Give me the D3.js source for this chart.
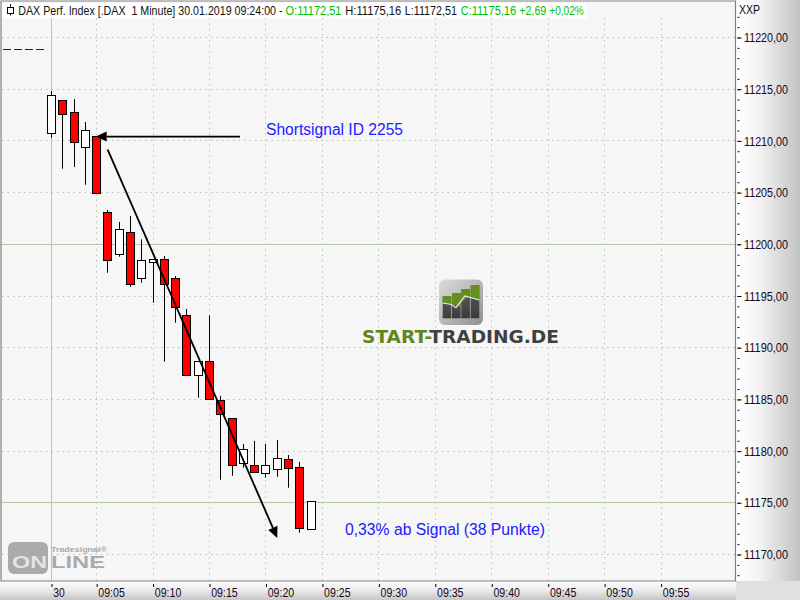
<!DOCTYPE html>
<html><head><meta charset="utf-8">
<script src="https://cdn.jsdelivr.net/npm/d3@7"></script>
<style>html,body{margin:0;padding:0;background:#fff}svg{display:block}text{font-family:"Liberation Sans",Arial,sans-serif}</style>
</head><body><svg id="c" width="800" height="600"></svg>
<script>
const times=["09:01","09:02","09:03","09:04","09:05","09:06","09:07","09:08","09:09","09:10","09:11","09:12","09:13","09:14","09:15","09:16","09:17","09:18","09:19","09:20","09:21","09:22","09:23","09:24"];
const opens=[11210.74,11213.93,11212.77,11209.38,11210.44,11203.09,11199.03,11201.16,11196.71,11198.26,11198.55,11196.71,11193.13,11187.33,11188.68,11184.91,11183.17,11178.82,11178.63,11177.85,11178.24,11179.21,11178.43,11172.51];
const highs=[11214.83,11213.93,11214.05,11211.83,11210.44,11203.32,11202.16,11202.74,11200.48,11198.55,11198.87,11196.93,11193.74,11188.68,11193.13,11185.33,11183.17,11180.69,11180.98,11180.69,11181.07,11179.62,11178.95,11175.16];
const lows=[11210.31,11207.31,11207.48,11205.76,11204.93,11197.25,11198.80,11195.90,11196.29,11194.35,11188.65,11192.42,11187.33,11185.16,11185.01,11177.23,11177.62,11178.39,11177.95,11177.43,11177.52,11176.46,11172.11,11172.51];
const closes=[11214.41,11212.57,11209.86,11211.03,11204.93,11198.45,11201.45,11196.19,11198.45,11198.55,11196.13,11193.91,11187.33,11188.68,11185.01,11183.56,11178.63,11180.17,11177.95,11178.63,11179.30,11178.34,11172.53,11175.16];
const priceTicks=[11220,11215,11210,11205,11200,11195,11190,11185,11180,11175,11170];
const minorPrices=d3.range(11168,11223);
const solidPrices=[11200,11175];
const timeTicks=["09:01","09:05","09:10","09:15","09:20","09:25","09:30","09:35","09:40","09:45","09:50","09:55"];
const arrowA=[["09:17:50",11210.42],["09:04:55",11210.42]];
const arrowB=[["09:05:55",11209.3],["09:21:00",11171.6]];
const toDate=s=>{const p=s.split(":").map(Number);return new Date(2019,0,30,p[0],p[1],p[2]||0)};
const fmtP=v=>v.toFixed(2).replace(".",",");

const svg=d3.select("#c");
const x=d3.scaleTime().domain([toDate("09:01"),toDate("09:55")]).range([51.5,661.1]);
const y=d3.scaleLinear().domain([11220,11170]).range([37.5,554.5]);
const defs=svg.append("defs");
const g1=defs.append("linearGradient").attr("id","gr");
[[0,"#ffffff"],[.35,"#f4f4f4"],[1,"#c2c2c2"]].forEach(d=>g1.append("stop").attr("offset",d[0]).attr("stop-color",d[1]));
const g2=defs.append("linearGradient").attr("id","gb").attr("x2",0).attr("y2",1);
[[0,"#fafafa"],[.4,"#eeeeee"],[1,"#c6c6c6"]].forEach(d=>g2.append("stop").attr("offset",d[0]).attr("stop-color",d[1]));
const g3=defs.append("linearGradient").attr("id","gl").attr("x1",0).attr("y1",0).attr("x2",1).attr("y2",1);
[[0,"#dcdcdc"],[.5,"#b8b8b8"],[1,"#8f8f8f"]].forEach(d=>g3.append("stop").attr("offset",d[0]).attr("stop-color",d[1]));
const g4=defs.append("linearGradient").attr("id","gbar").attr("x2",0).attr("y2",1);
[[0,"#5e5e5e"],[1,"#3a3a3a"]].forEach(d=>g4.append("stop").attr("offset",d[0]).attr("stop-color",d[1]));

svg.append("rect").attr("width",800).attr("height",600).attr("fill","#fff");
svg.append("rect").attr("x",1).attr("y",1).attr("width",734).attr("height",580).attr("fill","#f6f6f6");
svg.append("rect").attr("x",736).attr("y",0).attr("width",64).attr("height",581).attr("fill","url(#gr)");
svg.append("rect").attr("x",0).attr("y",582).attr("width",736).attr("height",18).attr("fill","url(#gb)");
svg.append("rect").attr("x",736).attr("y",581).attr("width",64).attr("height",19).attr("fill","#e0e0e0");

const gy=d=>Math.floor(y(d)+.1)+.5;
// grid
const grid=svg.append("g");
grid.selectAll("line.h").data(priceTicks.filter(p=>!solidPrices.includes(p))).join("line")
 .attr("x1",2).attr("x2",735).attr("y1",gy).attr("y2",gy)
 .attr("stroke","#bdbdbd").attr("stroke-dasharray","1.5 4");
grid.selectAll("line.v").data(timeTicks.slice(1)).join("line")
 .attr("x1",d=>Math.round(x(toDate(d))-.5)+.5).attr("x2",d=>Math.round(x(toDate(d))-.5)+.5).attr("y1",18).attr("y2",581)
 .attr("stroke","#afc8af").attr("stroke-dasharray","1.5 4");
grid.selectAll("line.s").data(solidPrices).join("line")
 .attr("x1",1).attr("x2",735).attr("y1",gy).attr("y2",gy)
 .attr("stroke","#b0c8a8");
grid.append("line").attr("x1",x(toDate("09:01"))).attr("x2",x(toDate("09:01"))).attr("y1",18).attr("y2",581).attr("stroke","#b6c6b6");

// dashed marker
svg.append("line").attr("x1",3).attr("x2",45).attr("y1",49.5).attr("y2",49.5).attr("stroke","#222").attr("stroke-dasharray","8 3");

// frame
svg.append("path").attr("d","M1,581V1H735.5V581Z").attr("fill","none").attr("stroke","#808080").attr("stroke-width",1.2);

// watermark
const wm=svg.append("g");
wm.append("rect").attr("x",8).attr("y",542).attr("width",40).attr("height",32).attr("rx",6).attr("fill","#aaaaaa");
wm.append("text").attr("x",12).attr("y",568).attr("font-size",16).attr("font-weight",700).attr("fill","#e4e4e4").attr("textLength",35).attr("lengthAdjust","spacingAndGlyphs").text("ON");
wm.append("text").attr("x",51).attr("y",568).attr("font-size",16).attr("font-weight",700).attr("fill","#aaaaaa").attr("textLength",54).attr("lengthAdjust","spacingAndGlyphs").text("LINE");
wm.append("text").attr("x",51).attr("y",552).attr("font-size",8).attr("font-weight",700).attr("fill","#a8a8a8").attr("textLength",56).attr("lengthAdjust","spacingAndGlyphs").text("Tradesignal®");

// logo
const lg=svg.append("g");
lg.append("rect").attr("x",439).attr("y",279.5).attr("width",44).attr("height",45.5).attr("rx",6).attr("fill","url(#gl)");
const barXs=[442.7,452,461.3,470.7], tops=[296.3,293,289,285];
barXs.forEach((bx,i)=>{
 lg.append("rect").attr("x",bx).attr("y",tops[i]).attr("width",8.6).attr("height",318.3-tops[i]).attr("fill","url(#gbar)");
 lg.append("path").attr("d",`M${bx},${tops[i]}h8.6V${i==2?296:i==3?300:i==1?307:304}L${bx},${i==2?302:i==3?297:i==1?304:303}Z`).attr("fill","#64901a");
});
lg.append("path").attr("d","M442.7,303L451.5,304.5L456,307.7L465,296L479.3,300").attr("fill","none").attr("stroke","#f0f0f0").attr("stroke-width",1.2);
const lt=lg.append("text").attr("x",362).attr("y",342.7).attr("font-size",17).attr("font-weight",700).attr("textLength",197).attr("lengthAdjust","spacingAndGlyphs").style("font-family","'DejaVu Sans'");
lt.append("tspan").attr("fill","#62851c").text("START-");
lt.append("tspan").attr("fill","#404040").text("TRADING.DE");

// candles
const data=times.map((t,i)=>({t:toDate(t),o:opens[i],h:highs[i],l:lows[i],c:closes[i]}));
const cg=svg.append("g").selectAll("g").data(data).join("g");
const cx=d=>Math.round(x(d.t)-.5)+.5;
cg.append("line").attr("x1",cx).attr("x2",cx).attr("y1",d=>y(d.h)).attr("y2",d=>y(d.l)).attr("stroke","#000").attr("stroke-width",1);
cg.append("rect").attr("x",d=>cx(d)-4).attr("width",8)
 .attr("y",d=>Math.round(y(Math.max(d.o,d.c)))+.5)
 .attr("height",d=>Math.max(2,Math.round(y(Math.min(d.o,d.c)))-Math.round(y(Math.max(d.o,d.c)))))
 .attr("fill",d=>d.c>=d.o?"#fff":"#ff0000").attr("stroke","#000").attr("stroke-width",1);

// arrows
function arrow(a){
 const x1=x(toDate(a[0][0])),y1=y(a[0][1]),x2=x(toDate(a[1][0])),y2=y(a[1][1]);
 const ang=Math.atan2(y2-y1,x2-x1),L=11,W=5;
 const bx=x2-L*Math.cos(ang),by=y2-L*Math.sin(ang);
 svg.append("line").attr("x1",x1).attr("y1",y1).attr("x2",bx).attr("y2",by).attr("stroke","#000").attr("stroke-width",1.8);
 svg.append("path").attr("d",`M${x2},${y2}L${bx-W*Math.sin(ang)},${by+W*Math.cos(ang)}L${bx+W*Math.sin(ang)},${by-W*Math.cos(ang)}Z`).attr("fill","#000");
 svg.append("rect").attr("x",x1-1.5).attr("y",y1-1.5).attr("width",3).attr("height",3).attr("fill","#ffffe0");
}
arrow(arrowA);arrow(arrowB);

// annotations
svg.append("text").attr("x",266).attr("y",135).attr("font-size",16).attr("fill","#2020ff").attr("textLength",137).attr("lengthAdjust","spacingAndGlyphs").text("Shortsignal ID 2255");
svg.append("text").attr("x",345).attr("y",535).attr("font-size",16).attr("fill","#2020ff").attr("textLength",200).attr("lengthAdjust","spacingAndGlyphs").text("0,33% ab Signal (38 Punkte)");

// y axis
const yMinor=svg.append("g").attr("transform","translate(737.5,0)").call(d3.axisRight(y).tickValues(minorPrices).tickSize(2).tickFormat(""));
yMinor.select(".domain").remove();
yMinor.selectAll("line").attr("stroke","#000");
const yAxis=svg.append("g").attr("transform","translate(737.5,0)").call(d3.axisRight(y).tickValues(priceTicks).tickSize(4).tickPadding(2.5).tickFormat(fmtP));
yAxis.select(".domain").remove();
yAxis.selectAll("line").attr("stroke","#000");
yAxis.selectAll("text").attr("fill","#150520").style("font-size","13px").style("font-family","'Liberation Sans'").attr("textLength",44).attr("lengthAdjust","spacingAndGlyphs");
svg.append("text").attr("x",739).attr("y",14).attr("font-size",13).attr("fill","#111").attr("textLength",21).attr("lengthAdjust","spacingAndGlyphs").text("XXP");

// x axis
const xAxis=svg.append("g").attr("transform","translate(0,584)").call(d3.axisBottom(x).tickValues(timeTicks.map(toDate)).tickSize(3).tickPadding(0).tickFormat(d=>d3.timeFormat("%H:%M")(d)==="09:01"?"30":d3.timeFormat("%H:%M")(d)));
xAxis.select(".domain").remove();
xAxis.selectAll("line").attr("stroke","#000");
xAxis.selectAll("text").attr("text-anchor","start").attr("x",1.2).attr("y",13).attr("dy",0).attr("fill","#150520").style("font-size","13px").style("font-family","'Liberation Sans'")
 .attr("textLength",d=>d3.timeFormat("%H:%M")(d)==="09:01"?11.5:26.5).attr("lengthAdjust","spacingAndGlyphs");

// header
svg.append("rect").attr("x",2).attr("y",3).attr("width",585).attr("height",15).attr("fill","#fff");
svg.append("line").attr("x1",10.5).attr("x2",10.5).attr("y1",4).attr("y2",15.5).attr("stroke","#000");
svg.append("rect").attr("x",7.5).attr("y",7.5).attr("width",6).attr("height",6).attr("fill","#fff").attr("stroke","#000");
const headerParts=[
 {s:"DAX Perf. Index [.DAX  1 Minute] 30.01.2019 09:24:00 -",x:18.3,w:264.7,f:"#111"},
 {s:"O:11172,51",x:285.5,w:56,f:"#00c000"},
 {s:"H:11175,16",x:345.3,w:56,f:"#111"},
 {s:"L:11172,51",x:404.7,w:52.5,f:"#111"},
 {s:"C:11175,16",x:460.7,w:55.5,f:"#00c000"},
 {s:"+2,69",x:519.3,w:27,f:"#00c000"},
 {s:"+0,02%",x:549.3,w:34.5,f:"#00c000"}];
svg.append("g").selectAll("text").data(headerParts).join("text")
 .attr("font-size",13).attr("fill",d=>d.f).style("white-space","pre").text(d=>d.s)
 .attr("transform",function(d){const n=this.getComputedTextLength();return `translate(${d.x},14.5) scale(${d.w/n},1)`;});
</script></body></html>
